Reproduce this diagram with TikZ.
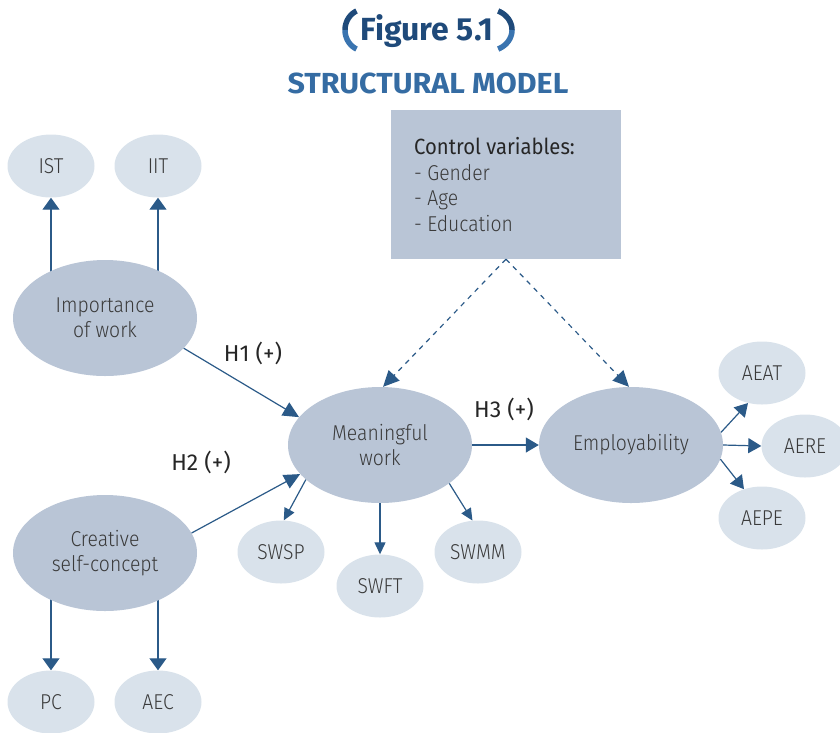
\documentclass[tikz,border=0pt]{standalone}
\usepackage{fontspec}
\setmainfont{Fira Sans Light}[FakeStretch=0.9]
\newfontfamily\fsreg{Fira Sans}
\newfontfamily\fsregc{Fira Sans}[FakeStretch=0.92]
\newfontfamily\fsboldw{Fira Sans}[FakeStretch=1.05]
\usetikzlibrary{shapes.geometric,arrows.meta,backgrounds}
\definecolor{dblue}{HTML}{1F4A7A}
\definecolor{lblue}{HTML}{3A74B0}
\definecolor{tblue}{HTML}{356CA3}
\definecolor{lnblue}{HTML}{2B5A88}
\definecolor{bigfill}{HTML}{B9C5D6}
\definecolor{smallfill}{HTML}{D9E2EB}
\definecolor{txtgrey}{HTML}{3A3A3A}
\tikzset{
  bigell/.style={ellipse, fill=bigfill, minimum width=184pt, minimum height=116pt, inner sep=0pt, align=center, text=txtgrey, font=\fontsize{21.5}{25}\selectfont},
  smallell/.style={ellipse, fill=smallfill, minimum width=87pt, minimum height=63pt, inner sep=0pt, text=txtgrey, font=\fontsize{21.5}{25}\selectfont},
  conn/.style={draw=lnblue, line width=1.2pt},
  tipV/.style={conn, -{Triangle[length=12pt,width=17pt]}},
  tipB/.style={conn, -{Triangle[length=16pt,width=15pt]}},
  tipS/.style={conn, -{Triangle[length=12pt,width=11pt]}},
  tipM/.style={conn, -{Triangle[length=13pt,width=15pt]}},
  dsh/.style={dash pattern=on 5pt off 5pt},
  hlab/.style={text=black!85, font=\fsreg\fontsize{23}{26}\selectfont},
  ctext/.style={anchor=base west, inner sep=0pt, text=txtgrey, font=\fontsize{21.5}{25}\selectfont},
  brk/.style={line width=5.5pt}
}
\begin{document}
\begin{tikzpicture}[x=1pt,y=-1pt]
\useasboundingbox (0,0) rectangle (840,732);
\clip (0,0) rectangle (840,732);
% title brackets
\draw[brk, dblue] plot[domain=180:245, variable=\t, samples=30] ({365+20*cos(\t)},{30+21*sin(\t)});
\draw[brk, lblue] plot[domain=115:180, variable=\t, samples=30] ({365+20*cos(\t)},{30+21*sin(\t)});
\draw[brk, dblue] plot[domain=-65:0, variable=\t, samples=30] ({488+24*cos(\t)},{30+21*sin(\t)});
\draw[brk, lblue] plot[domain=0:65, variable=\t, samples=30] ({488+24*cos(\t)},{30+21*sin(\t)});
\node[anchor=base, inner sep=0pt, text=dblue, font=\fsreg\bfseries\fontsize{32}{36}\selectfont] (fig) at (427,40) {Figure 5.1};
\node[anchor=base, inner sep=0pt, text=tblue, font=\fsboldw\bfseries\fontsize{29}{33}\selectfont] (sm) at (428,93) {STRUCTURAL MODEL};
% control box
\node[rectangle, fill=bigfill, minimum width=230pt, minimum height=149pt, inner sep=0pt] (cb) at (506,184.5) {};
\node[ctext, font=\fsregc\fontsize{22}{25}\selectfont, text=black!85] (c1) at (414,154) {Control variables:};
\node[ctext] (c2) at (414,180) {- Gender};
\node[ctext] (c3) at (414,205) {- Age};
\node[ctext] (c4) at (414,231) {- Education};
% main nodes
\node[bigell] (imp) at (105,318) {Importance\\of work};
\node[bigell] (cre) at (105,553) {Creative\\self-concept};
\node[bigell] (mw) at (380,445) {Meaningful\\work};
\node[bigell] (emp) at (631,445) {Employability};
% indicators
\node[smallell] (ist) at (51,166) {IST};
\node[smallell] (iit) at (158,166) {IIT};
\node[smallell] (pc) at (51,702) {PC};
\node[smallell] (aec) at (158,702) {AEC};
\node[smallell] (swsp) at (281,552) {SWSP};
\node[smallell] (swft) at (380,586) {SWFT};
\node[smallell] (swmm) at (478,552) {SWMM};
\node[smallell] (aeat) at (762,373) {AEAT};
\node[smallell] (aere) at (805,446) {AERE};
\node[smallell] (aepe) at (762,518) {AEPE};
% connectors
\begin{scope}[on background layer]
\draw[tipV] (ist |- imp) -- (ist.south);
\draw[tipV] (iit |- imp) -- (iit.south);
\draw[tipV] (pc |- cre) -- (pc.north);
\draw[tipV] (aec |- cre) -- (aec.north);
\end{scope}
\draw[tipB] (imp.-21) -- (mw.161);
\draw[tipB] (cre.13) -- (mw.-160);
\draw[tipM] (mw.east) -- (emp.west);
\coordinate (cbs) at (cb.south);
\draw[tipB, dsh] (cbs) -- (mw.87);
\draw[tipB, dsh] (cbs) -- (emp.92);
\draw[tipS] (mw.-155) -- (swsp.85);
\draw[tipS] (mw.south) -- (swft.north);
\draw[tipS] (mw.-29) -- (swmm.100);
\draw[tipM] (emp.8) -- (aeat.-115);
\draw[tipM] (emp.east) -- (aere.west);
\draw[tipM] (emp.-9) -- (aepe.122);
% labels
\node[hlab] (h1) at (253,353) {H1 (+)};
\node[hlab] (h2) at (201,462) {H2 (+)};
\node[hlab] (h3) at (504,409) {H3 (+)};
\end{tikzpicture}
\end{document}
